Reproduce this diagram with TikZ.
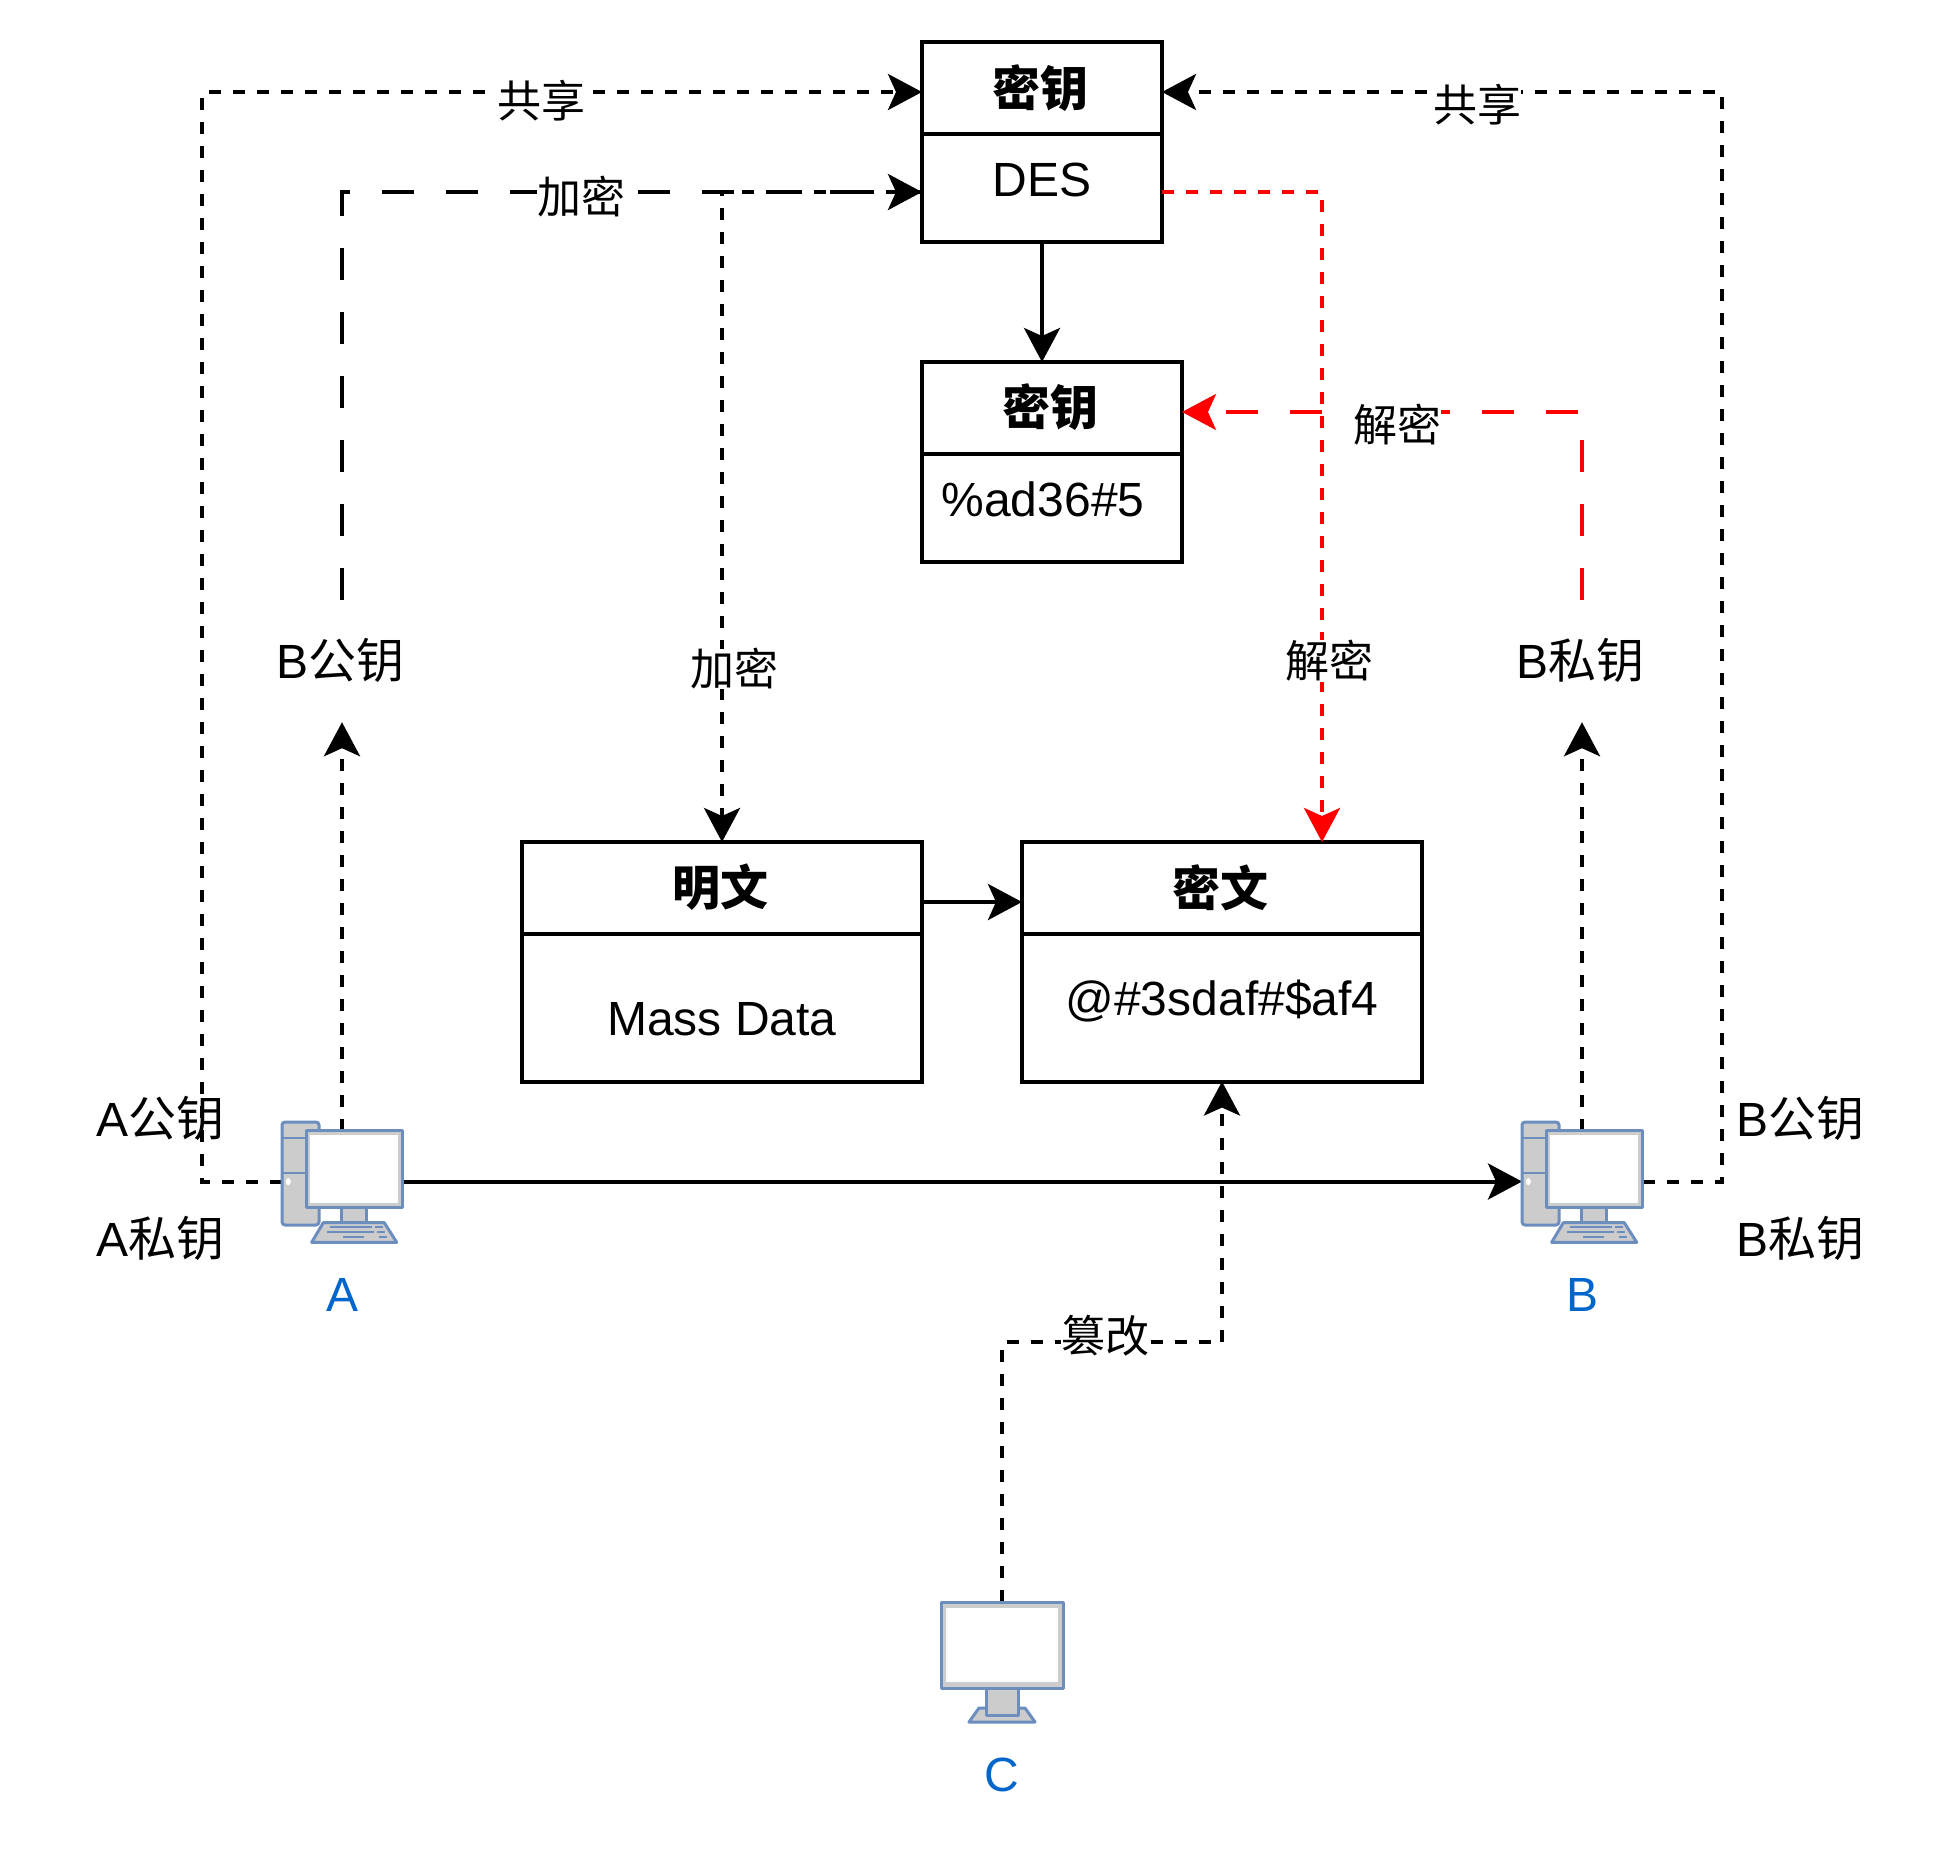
\documentclass[tikz,border=0pt]{standalone}
\usepackage{fontspec}
\setmainfont{Liberation Sans}
\newfontfamily\cjk{Noto Sans CJK SC}
\usetikzlibrary{arrows.meta,calc}
\definecolor{pcline}{HTML}{6C8EBF}
\definecolor{pcfill}{HTML}{CCCCCC}
\definecolor{pcname}{HTML}{0066CC}
\tikzset{
  big/.style={font=\fontsize{48}{56}\selectfont},
  edgelabel/.style={font=\fontsize{44}{50}\selectfont\cjk,fill=white,inner sep=0pt},
  keytext/.style={big,inner sep=0pt},
  blocktitle/.style={draw=black,line width=4pt,minimum width=#1,minimum height=92pt,anchor=north west,inner sep=0pt,outer sep=0pt},
  blockbody/.style={draw=black,line width=4pt,anchor=north west,inner sep=0pt,outer sep=0pt},
  titletext/.style={font=\fontsize{48}{56}\selectfont\cjk\bfseries,inner sep=0pt},
  conn/.style={line width=4pt,-{Stealth[length=34pt,width=36pt,inset=8pt]}},
  sdash/.style={conn,dash pattern=on 12pt off 12pt},
  ldash/.style={conn,dash pattern=on 32pt off 32pt},
  pcpart/.style={draw=pcline,fill=pcfill,line width=3pt,line join=round},
  pcmark/.style={draw=pcline,line width=2pt},
  hostname/.style={big,text=pcname,inner sep=0pt},
  hostbox/.style={minimum width=121pt,minimum height=121pt,inner sep=0pt,outer sep=0pt},
}
\newcommand{\towerpc}[2]{%
  \begin{scope}[shift={(#1,#2)}]
    \draw[pcpart,rounded corners=3pt] (0,0) rectangle (37,103);
    \draw[pcmark] (0,16.3) -- (24,16.3) (0,51.3) -- (24,51.3);
    \fill[white] (6.3,59.7) ellipse (2.5pt and 3.5pt);
    \draw[pcpart] (59.7,85.7) rectangle (84.7,101);
    \draw[pcpart] (41.3,100.7) -- (102.3,100.7) -- (114.7,120.3) -- (29.7,120.3) -- cycle;
    \draw[pcmark] (48.3,105.3) -- (90,105.3) (93,105.3) -- (100.7,105.3)
                  (45,110.3) -- (91.7,110.3) (94.7,110.3) -- (103,110.3)
                  (61,115.3) -- (82,115.3) (97.3,115.3) -- (105.3,115.3);
    \draw[pcpart] (24,8.7) rectangle (120.7,85.7);
    \fill[white] (28,13) rectangle (115.7,81.3);
  \end{scope}}
\begin{document}
\begin{tikzpicture}[x=1pt,y=-1pt]
\useasboundingbox[fill=white] (0,0) rectangle (1960,1848);

% blocks
\node[blocktitle=240pt] (keyT) at (922,42) {};
\node[blockbody,minimum width=240pt,minimum height=108pt] (keyB) at (922,134) {};
\node[blocktitle=260pt] (cipT) at (922,362) {};
\node[blockbody,minimum width=260pt,minimum height=108pt] (cipB) at (922,454) {};
\node[blocktitle=400pt] (plainT) at (522,842) {};
\node[blockbody,minimum width=400pt,minimum height=147.5pt] (plainB) at (522,934) {};
\node[blocktitle=400pt] (ctextT) at (1022,842) {};
\node[blockbody,minimum width=400pt,minimum height=147.5pt] (ctextB) at (1022,934) {};

\node[titletext] (t1) at (1040,88) {密钥};
\node[keytext] (b1) at (1042,179.5) {DES};
\node[titletext] (t2) at (1050,407) {密钥};
\node[keytext] (b2) at (1043,499) {\%ad36\#5};
\node[titletext] (t3) at (720,887.5) {明文};
\node[keytext] (b3) at (722,1019) {Mass Data};
\node[titletext] (t4) at (1220,887.5) {密文};
\node[keytext] (b4) at (1222,1001) {@\#3sdaf\#\$af4};

% key labels that connectors stop at
\node[keytext,minimum height=122pt] (bpubL) at (342,661) {\raisebox{5pt}{\kern-3pt B{\cjk 公钥}}};
\node[keytext,minimum height=122pt] (bpriL) at (1582,661) {\raisebox{5pt}{\kern-3pt B{\cjk 私钥}}};
\node[keytext] (apub) at (160.5,1118.5) {A{\cjk 公钥}};
\node[keytext] (apri) at (160.5,1238.5) {A{\cjk 私钥}};
\node[keytext] (bpubR) at (1800,1118.5) {B{\cjk 公钥}};
\node[keytext] (bpriR) at (1800,1238.5) {B{\cjk 私钥}};

% hosts (footprints)
\node[hostbox] (hostA) at (342.5,1181.5) {};
\node[hostbox] (hostB) at (1582.5,1181.5) {};
\node[hostbox] (hostC) at (1002,1662) {};

\coordinate (keyShareL) at ($(keyT.west)+(0,4)$);
\coordinate (keyShareR) at ($(keyT.east)+(0,4)$);
\coordinate (keyEncL) at ($(keyB.west)+(0,4)$);
\coordinate (keyEncR) at ($(keyB.east)+(0,4)$);
\coordinate (shareLx) at (202,1181.5);
\coordinate (shareRx) at (1722,1181.5);
\coordinate (Atop) at (342,1131);
\coordinate (Btop) at (1582,1131);
\coordinate (redDrop) at (1322,842);
\coordinate (cipIn) at ($(cipT.east)+(0,4)$);
\coordinate (bend) at (1222,1342);
\coordinate (plainOut) at ($(plainT.east)+(0,14)$);
\coordinate (ctextIn) at ($(ctextT.west)+(0,14)$);

% connectors
\draw[sdash] (hostA.west) -- (shareLx) |- (keyShareL);
\draw[sdash] (hostB.east) -- (shareRx) |- (keyShareR);
\draw[ldash] (bpubL.north) |- (keyEncL);
\draw[sdash] (keyEncL) -| (plainT.north);
\draw[sdash] (Atop) -- (bpubL.south);
\draw[sdash] (Btop) -- (bpriL.south);
\draw[sdash,red] (keyEncR) -| (redDrop);
\draw[ldash,red] (bpriL.north) |- (cipIn);
\draw[conn] (keyB.south) -- (keyB.south |- cipT.north);
\draw[conn] (plainOut) -- (ctextIn);
\draw[conn] (hostA.east) -- (hostB.west);
\draw[sdash] (hostC.north) |- (bend) -- (ctextB.south);

% connector labels
\node[edgelabel] (e1) at (541,101) {共享};
\node[edgelabel] (e2) at (1477,105) {共享};
\node[edgelabel] (e3) at (581,197) {加密};
\node[edgelabel] (e4) at (734,669) {加密};
\node[edgelabel] (e5) at (1397,425) {解密};
\node[edgelabel] (e6) at (1329,661) {解密};
\node[edgelabel] (e7) at (1105,1336) {篡改};

% computers
\towerpc{282}{1122}
\towerpc{1522}{1122}
\begin{scope}[shift={(941,1602)}]
  \draw[pcpart] (38,106) -- (84,106) -- (94,120) -- (28,120) -- cycle;
  \draw[pcpart] (45,86) rectangle (77,113);
  \draw[pcpart] (0,0) rectangle (122,86);
  \fill[white!92!pcfill] (5,6) rectangle (117,80);
  \fill[white] (7,6) rectangle (115,78);
\end{scope}
\node[hostname] (nA) at (343,1295) {A};
\node[hostname] (nB) at (1582,1295) {B};
\node[hostname] (nC) at (1002,1775) {C};
\end{tikzpicture}
\end{document}
